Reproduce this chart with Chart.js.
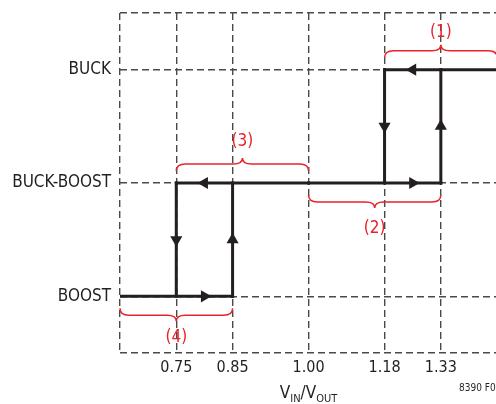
<!DOCTYPE html>
<html>
<head>
<meta charset="utf-8">
<script src="https://cdn.jsdelivr.net/npm/chart.js@4.4.1/dist/chart.umd.min.js"></script>
<style>
    html, body { margin: 0; padding: 0; background: #fff; }
    #wrap { width: 496px; height: 404px; position: relative; }
</style>
</head>
<body>
<div id="wrap"><canvas id="modeChart"></canvas></div>
<script>
// Modos de operación (eje y, de abajo hacia arriba)
const modes = ['BOOST', 'BUCK-BOOST', 'BUCK'];
// Etiquetas de VIN/VOUT y su posición en el esquema (no está a escala)
const ratioLabels = ['0.75', '0.85', '1.00', '1.18', '1.33'];
const ratioPos = [1, 2, 3.35, 4.7, 5.7];
const xStart = 0;
const xEnd = 6.68;

// Tramos horizontales: [modo, desde, hasta, flecha entre, sentido]
const hSegments = [
    ['BOOST', 'start', '0.85', ['0.75', '0.85'], 'right'],
    ['BUCK-BOOST', '0.75', '1.00', ['0.75', '0.85'], 'left'],
    ['BUCK-BOOST', '1.00', '1.33', ['1.18', '1.33'], 'right'],
    ['BUCK', '1.18', 'end', ['1.18', '1.33'], 'left']
];
// Tramos verticales: [VIN/VOUT, modo inicial, modo final]
const vSegments = [
    ['0.85', 'BOOST', 'BUCK-BOOST'],
    ['1.33', 'BUCK-BOOST', 'BUCK'],
    ['1.18', 'BUCK', 'BUCK-BOOST'],
    ['0.75', 'BUCK-BOOST', 'BOOST']
];
// Llaves rojas
const braces = [
    { label: '(1)', from: '1.18', to: 'end2', mode: 'BUCK', side: 'up', gap: 37 },
    { label: '(2)', from: '1.00', to: '1.33', mode: 'BUCK-BOOST', side: 'down', gap: 46 },
    { label: '(3)', from: '0.75', to: '1.00', mode: 'BUCK-BOOST', side: 'up', gap: 41 },
    { label: '(4)', from: 'start', to: '0.85', mode: 'BOOST', side: 'down', gap: 41 }
];

const FONT = "'DejaVu Sans Condensed', 'Liberation Sans Narrow', sans-serif";
const INK = '#231f20';
const RED = '#e8232b';

function xOf(label) {
    if (label === 'start') return xStart;
    if (label === 'end') return xEnd;
    if (label === 'end2') return 2 * ratioPos[4] - ratioPos[3];
    return ratioPos[ratioLabels.indexOf(label)];
}
function yOf(mode) {
    return modes.indexOf(mode);
}
const rotations = { up: 0, right: 90, down: 180, left: 270 };

function segmentDataset(p0, mid, p1, dir) {
    return {
        data: [p0, mid, p1],
        showLine: true,
        borderColor: INK,
        borderWidth: 3,
        borderCapStyle: 'square',
        pointStyle: 'triangle',
        pointRadius: [0, 7, 0],
        pointHoverRadius: [0, 7, 0],
        pointRotation: [0, rotations[dir], 0],
        pointBackgroundColor: INK,
        pointBorderWidth: 0
    };
}

const datasets = [];
hSegments.forEach(([mode, a, b, between, dir]) => {
    const y = yOf(mode);
    const mid = (xOf(between[0]) + xOf(between[1])) / 2;
    datasets.push(segmentDataset({ x: xOf(a), y }, { x: mid, y }, { x: xOf(b), y }, dir));
});
vSegments.forEach(([r, m0, m1]) => {
    const x = xOf(r);
    const y0 = yOf(m0), y1 = yOf(m1);
    datasets.push(segmentDataset({ x, y: y0 }, { x, y: (y0 + y1) / 2 }, { x, y: y1 }, y1 > y0 ? 'up' : 'down'));
});

// Plugin para dibujar llaves, título del eje x y nota
const annotations = {
    id: 'annotations',
    afterDatasetsDraw(chart) {
        const { ctx, scales: { x, y } } = chart;
        ctx.save();
        ctx.strokeStyle = RED;
        ctx.fillStyle = RED;
        ctx.lineWidth = 1.5;
        ctx.font = '17px ' + FONT;
        ctx.textAlign = 'center';
        ctx.textBaseline = 'middle';
        braces.forEach(b => {
            const x1 = x.getPixelForValue(xOf(b.from));
            const x2 = x.getPixelForValue(xOf(b.to));
            const xm = (x1 + x2) / 2;
            const yl = y.getPixelForValue(yOf(b.mode));
            const s = b.side === 'up' ? -1 : 1;
            const yEnd = yl + s * 12;
            const yH = yl + s * 19;
            const yTip = yl + s * 25;
            const r = 9;
            ctx.beginPath();
            ctx.moveTo(x1, yEnd);
            ctx.quadraticCurveTo(x1, yH, x1 + r, yH);
            ctx.lineTo(xm - r, yH);
            ctx.quadraticCurveTo(xm, yH, xm, yTip);
            ctx.quadraticCurveTo(xm, yH, xm + r, yH);
            ctx.lineTo(x2 - r, yH);
            ctx.quadraticCurveTo(x2, yH, x2, yEnd);
            ctx.stroke();
            ctx.fillText(b.label, xm, yl + s * b.gap);
        });

        // Título del eje x: VIN/VOUT con subíndices
        const parts = [
            ['V', 17, 0], ['IN', 11, 4], ['/', 17, 0], ['V', 17, 0], ['OUT', 11, 4]
        ];
        ctx.fillStyle = INK;
        ctx.textAlign = 'left';
        ctx.textBaseline = 'alphabetic';
        let total = 0;
        parts.forEach(([t, size]) => {
            ctx.font = size + 'px ' + FONT;
            total += ctx.measureText(t).width;
        });
        let cx = x.getPixelForValue(ratioPos[2]) - total / 2;
        const base = 398;
        parts.forEach(([t, size, dy]) => {
            ctx.font = size + 'px ' + FONT;
            ctx.fillText(t, cx, base + dy);
            cx += ctx.measureText(t).width;
        });

        // Nota de figura
        ctx.font = '10px ' + FONT;
        ctx.fillText('8390 F03', 459, 391);
        ctx.restore();
    }
};

const gridStyle = {
    color: '#4a4a4a',
    lineWidth: 1.4,
    drawTicks: false
};

new Chart(document.getElementById('modeChart'), {
    type: 'scatter',
    data: { datasets },
    options: {
        responsive: true,
        maintainAspectRatio: false,
        animation: false,
        events: [],
        layout: { padding: { top: 13, right: 0, left: 0, bottom: 0 } },
        plugins: {
            legend: { display: false },
            tooltip: { enabled: false }
        },
        scales: {
            x: {
                type: 'linear',
                min: xStart,
                max: xEnd,
                afterBuildTicks: scale => {
                    scale.ticks = [xStart, ...ratioPos].map(v => ({ value: v }));
                },
                afterFit: scale => {
                    scale.height = 51;
                    scale.paddingLeft = 0;
                    scale.paddingRight = 0;
                },
                ticks: {
                    autoSkip: false,
                    maxRotation: 0,
                    padding: 5,
                    color: INK,
                    font: { family: FONT, size: 16 },
                    callback: (v, i) => (i === 0 ? '' : ratioLabels[i - 1])
                },
                grid: gridStyle,
                border: { display: false, dash: [7, 4] }
            },
            y: {
                type: 'linear',
                min: -0.5,
                max: 2.5,
                afterBuildTicks: scale => {
                    scale.ticks = [-0.5, 0, 1, 2, 2.5].map(v => ({ value: v }));
                },
                afterFit: scale => {
                    scale.width = 120;
                    scale.paddingTop = 0;
                    scale.paddingBottom = 0;
                },
                ticks: {
                    autoSkip: false,
                    padding: 9,
                    color: INK,
                    font: { family: FONT, size: 17 },
                    callback: v => (Number.isInteger(v) ? modes[v] : '')
                },
                grid: gridStyle,
                border: { display: false, dash: [7, 4] }
            }
        }
    },
    plugins: [annotations]
});
</script>
</body>
</html>
